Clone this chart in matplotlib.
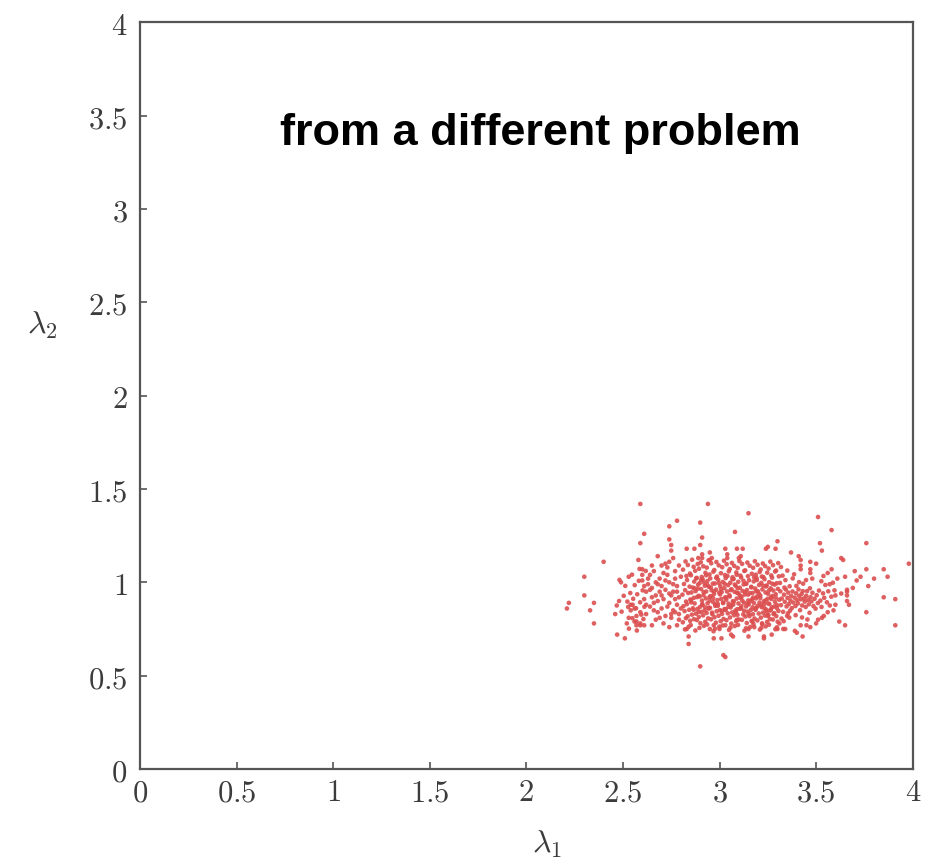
import matplotlib
matplotlib.use("Agg")
import matplotlib.pyplot as plt
from matplotlib.ticker import FuncFormatter

# ---------------- data (lambda_1, lambda_2 samples) ----
tail_l1 = [
    2.59, 2.94, 2.78, 2.90, 2.74, 2.61, 2.91, 2.59, 2.74, 2.75,
    2.90, 2.40, 2.58, 2.30, 2.49, 2.53, 2.30, 2.22, 2.21, 2.35,
    2.33, 2.35, 2.48, 2.46, 2.47, 2.51, 2.53, 2.54, 2.57, 2.57,
    2.59, 2.84, 2.84, 2.90, 3.02, 3.03, 2.83, 2.97, 3.01, 3.15,
    3.51, 3.08, 3.58, 3.30, 3.52, 3.53, 3.76, 3.98, 3.85, 3.87,
    3.80, 3.76, 3.70, 3.73, 3.71, 3.65, 3.69, 3.77, 3.85, 3.91,
    3.76, 3.91, 3.65, 3.62, 3.63, 3.64, 3.58, 3.61, 3.66, 3.66,
    3.41, 3.42, 3.42, 3.42, 3.47, 3.50, 3.47, 3.47, 3.48, 3.56,
    3.57, 3.60, 3.63, 3.66, 3.66, 3.67, 3.60, 3.59, 3.56, 3.54,
    3.53, 3.51, 3.50, 3.47, 3.43, 3.40, 3.39, 3.42, 3.45, 3.07,
    3.06, 3.15, 3.15, 3.23, 3.23, 3.27, 3.30, 3.33, 3.24, 3.25,
    3.29, 3.37, 2.83, 2.87, 3.03, 3.09, 3.12, 2.91, 2.89, 2.91,
    2.95, 2.96, 2.95, 3.04, 3.04, 3.11, 3.10, 2.75, 2.68, 2.72,
    2.74, 2.76, 2.65, 2.60, 2.60, 2.64, 2.60, 2.55, 2.56, 2.54,
    2.52, 2.56, 2.57, 2.59, 2.65, 2.61, 2.59, 2.95, 2.97, 3.00,
    3.03, 3.09, 3.17, 3.18, 3.22, 3.25, 3.28, 3.31, 3.34, 3.35,
]
tail_l2 = [
    1.42, 1.42, 1.33, 1.32, 1.30, 1.26, 1.24, 1.21, 1.23, 1.20,
    1.20, 1.11, 1.12, 1.03, 1.00, 1.03, 0.93, 0.89, 0.86, 0.89,
    0.85, 0.78, 0.90, 0.83, 0.72, 0.70, 0.81, 0.88, 0.79, 0.77,
    0.77, 0.67, 0.71, 0.55, 0.61, 0.60, 0.75, 0.70, 0.70, 1.37,
    1.35, 1.27, 1.28, 1.22, 1.21, 1.17, 1.21, 1.10, 1.07, 1.03,
    1.02, 1.07, 1.06, 1.03, 1.01, 1.03, 0.97, 0.98, 0.92, 0.91,
    0.84, 0.77, 0.77, 0.79, 1.13, 1.12, 1.07, 1.02, 0.96, 0.95,
    1.14, 1.12, 1.09, 1.07, 1.11, 1.10, 1.07, 1.05, 1.02, 1.05,
    0.99, 0.93, 0.94, 0.93, 0.90, 0.88, 0.88, 0.85, 0.84, 0.82,
    0.81, 0.80, 0.78, 0.76, 0.71, 0.73, 0.74, 0.77, 0.77, 0.71,
    0.72, 0.71, 0.75, 0.71, 0.70, 0.72, 0.75, 0.75, 1.18, 1.19,
    1.18, 1.16, 1.18, 1.18, 1.18, 1.18, 1.18, 1.15, 1.13, 1.13,
    1.16, 1.13, 1.12, 1.15, 1.13, 1.14, 1.13, 1.17, 1.14, 1.10,
    1.11, 1.13, 1.09, 1.07, 1.04, 1.04, 1.01, 0.88, 0.86, 0.85,
    0.78, 0.79, 0.82, 0.84, 0.77, 0.77, 0.78, 0.75, 0.77, 0.75,
    0.77, 0.80, 0.79, 0.76, 0.78, 0.82, 0.83, 0.78, 0.75, 0.82,
]

left_l1 = [
    2.62, 2.63, 2.61, 2.64, 2.62, 2.66, 2.65, 2.67, 2.66, 2.68,
    2.67, 2.69, 2.70, 2.69, 2.71, 2.70, 2.72, 2.71, 2.73, 2.73,
    2.74, 2.72, 2.75, 2.74, 2.76, 2.75, 2.74, 2.77, 2.77, 2.78,
    2.76, 2.79, 2.78, 2.77, 2.79, 2.78, 2.63, 2.65, 2.68, 2.70,
    2.66, 2.69, 2.72, 2.73, 2.76, 2.79, 2.78, 2.80, 2.64, 2.71,
    2.62, 2.67, 2.74, 2.77, 2.80, 2.61, 2.68, 2.75, 2.70, 2.79,
    2.468, 2.482, 2.493, 2.504, 2.512, 2.523, 2.531, 2.538, 2.547, 2.553,
    2.561, 2.568, 2.574, 2.582, 2.589, 2.595, 2.602, 2.611, 2.618, 2.586,
    2.549, 2.572, 2.606, 2.527,
]
left_l2 = [
    0.95, 0.99, 0.91, 0.87, 0.83, 1.06, 0.97, 0.93, 0.89, 0.84,
    0.80, 1.02, 0.98, 0.95, 0.91, 0.86, 0.82, 0.78, 1.08, 1.04,
    1.00, 0.96, 0.93, 0.89, 0.85, 0.81, 0.76, 1.06, 1.02, 0.98,
    0.95, 0.92, 0.88, 0.84, 0.80, 0.77, 1.02, 0.92, 0.99, 0.93,
    0.85, 0.81, 1.01, 0.87, 0.99, 1.09, 0.95, 0.86, 0.96, 1.05,
    0.88, 1.00, 0.94, 0.91, 1.03, 0.98, 0.90, 0.83, 1.09, 0.83,
    0.876, 1.013, 0.843, 0.928, 0.981, 0.897, 0.752, 0.943, 1.041, 0.912,
    0.985, 0.861, 0.936, 1.008, 0.893, 0.827, 0.957, 0.869, 1.061, 1.072,
    0.808, 0.742, 0.803, 0.868,
]

core_l1 = [
    2.824, 2.811, 2.829, 2.816, 2.822, 2.808, 2.827, 2.813, 2.819, 2.826, 2.810, 2.821,
    2.836, 2.847, 2.832, 2.845, 2.838, 2.849, 2.831, 2.843, 2.835, 2.848, 2.840,
    2.858, 2.866, 2.852, 2.869, 2.861, 2.855, 2.867, 2.853, 2.862, 2.857, 2.868, 2.851,
    2.887, 2.874, 2.882, 2.889, 2.876, 2.884, 2.871, 2.886, 2.878, 2.883, 2.875,
    2.903, 2.894, 2.908, 2.897, 2.905, 2.892, 2.909, 2.899, 2.906, 2.893, 2.901, 2.896,
    2.916, 2.927, 2.913, 2.924, 2.918, 2.929, 2.911, 2.922, 2.915, 2.926, 2.919,
    2.943, 2.934, 2.948, 2.937, 2.945, 2.931, 2.949, 2.938, 2.946, 2.933, 2.941, 2.936,
    2.957, 2.968, 2.952, 2.965, 2.959, 2.954, 2.967, 2.951, 2.963, 2.956, 2.969,
    2.984, 2.973, 2.987, 2.976, 2.982, 2.971, 2.989, 2.978, 2.985, 2.974, 2.981, 2.977,
    2.996, 3.007, 2.993, 3.004, 2.998, 3.009, 2.991, 3.002, 2.995, 3.006, 2.999,
    3.023, 3.014, 3.028, 3.017, 3.025, 3.011, 3.029, 3.018, 3.026, 3.013, 3.021, 3.016,
    3.037, 3.048, 3.032, 3.045, 3.039, 3.034, 3.047, 3.031, 3.043, 3.036, 3.049,
    3.064, 3.053, 3.067, 3.056, 3.062, 3.051, 3.069, 3.058, 3.065, 3.054, 3.061, 3.057,
    3.076, 3.087, 3.073, 3.084, 3.078, 3.089, 3.071, 3.082, 3.075, 3.086, 3.079,
    3.103, 3.094, 3.108, 3.097, 3.105, 3.091, 3.109, 3.098, 3.106, 3.093, 3.101, 3.096,
    3.117, 3.128, 3.112, 3.125, 3.119, 3.114, 3.127, 3.111, 3.123, 3.116, 3.129,
    3.144, 3.133, 3.147, 3.136, 3.142, 3.131, 3.149, 3.138, 3.145, 3.134, 3.141, 3.137,
    3.156, 3.167, 3.153, 3.164, 3.158, 3.169, 3.151, 3.162, 3.155, 3.166, 3.159,
    3.183, 3.174, 3.188, 3.177, 3.185, 3.171, 3.189, 3.178, 3.186, 3.173, 3.181, 3.176,
    3.197, 3.208, 3.192, 3.205, 3.199, 3.194, 3.207, 3.191, 3.203, 3.196, 3.209,
    3.224, 3.213, 3.227, 3.216, 3.222, 3.211, 3.229, 3.218, 3.225, 3.214, 3.221, 3.217,
    3.236, 3.247, 3.233, 3.244, 3.238, 3.249, 3.231, 3.242, 3.235, 3.246, 3.239,
    3.263, 3.254, 3.268, 3.257, 3.265, 3.251, 3.269, 3.258, 3.266, 3.253, 3.261, 3.256,
    3.277, 3.288, 3.272, 3.285, 3.279, 3.274, 3.287, 3.271, 3.283, 3.276, 3.289,
    3.304, 3.293, 3.307, 3.296, 3.302, 3.291, 3.309, 3.298, 3.305, 3.294, 3.301, 3.297,
]
core_l2 = [
    1.112, 1.068, 1.034, 0.991, 0.958, 0.934, 0.897, 0.872, 0.846, 0.808, 0.786, 0.748,
    1.093, 1.047, 1.012, 0.977, 0.943, 0.908, 0.883, 0.853, 0.818, 0.794, 0.762,
    1.121, 1.083, 1.038, 1.004, 0.972, 0.946, 0.917, 0.893, 0.861, 0.827, 0.803, 0.771,
    1.098, 1.062, 1.024, 0.987, 0.953, 0.921, 0.887, 0.858, 0.832, 0.798, 0.742,
    1.107, 1.073, 1.029, 0.996, 0.964, 0.928, 0.902, 0.868, 0.841, 0.815, 0.781, 0.756,
    1.086, 1.051, 1.016, 0.982, 0.947, 0.914, 0.879, 0.849, 0.823, 0.789, 0.767,
    1.118, 1.079, 1.042, 1.007, 0.976, 0.951, 0.922, 0.888, 0.864, 0.836, 0.807, 0.774,
    1.102, 1.057, 1.021, 0.993, 0.957, 0.926, 0.894, 0.863, 0.829, 0.802, 0.738,
    1.109, 1.066, 1.031, 0.994, 0.961, 0.937, 0.905, 0.874, 0.845, 0.813, 0.784, 0.752,
    1.091, 1.049, 1.014, 0.979, 0.944, 0.911, 0.884, 0.851, 0.821, 0.792, 0.763,
    1.116, 1.081, 1.039, 1.002, 0.969, 0.948, 0.919, 0.891, 0.857, 0.831, 0.804, 0.769,
    1.097, 1.059, 1.023, 0.985, 0.951, 0.919, 0.886, 0.856, 0.834, 0.797, 0.745,
    1.104, 1.071, 1.027, 0.998, 0.963, 0.931, 0.899, 0.866, 0.839, 0.812, 0.779, 0.758,
    1.088, 1.053, 1.018, 0.981, 0.949, 0.913, 0.881, 0.848, 0.824, 0.791, 0.766,
    1.114, 1.077, 1.036, 1.003, 0.971, 0.944, 0.916, 0.887, 0.859, 0.826, 0.801, 0.772,
    1.099, 1.061, 1.026, 0.989, 0.954, 0.923, 0.891, 0.861, 0.828, 0.799, 0.741,
    1.106, 1.064, 1.033, 0.992, 0.959, 0.935, 0.903, 0.871, 0.843, 0.817, 0.782, 0.754,
    1.089, 1.046, 1.011, 0.976, 0.942, 0.909, 0.882, 0.852, 0.819, 0.793, 0.761,
    1.113, 1.078, 1.041, 1.005, 0.967, 0.943, 0.914, 0.889, 0.858, 0.829, 0.806, 0.776,
    1.094, 1.056, 1.022, 0.986, 0.952, 0.924, 0.892, 0.864, 0.833, 0.796, 0.747,
    1.101, 1.069, 1.028, 0.997, 0.962, 0.929, 0.898, 0.867, 0.838, 0.811, 0.777, 0.757,
    1.087, 1.052, 1.017, 0.983, 0.946, 0.912, 0.883, 0.854, 0.822, 0.788, 0.764,
    1.111, 1.074, 1.037, 1.001, 0.968, 0.939, 0.911, 0.884, 0.855, 0.825, 0.803, 0.773,
    1.092, 1.058, 1.025, 0.988, 0.956, 0.927, 0.896, 0.866, 0.835, 0.801, 0.749,
    1.103, 1.063, 1.032, 0.995, 0.965, 0.936, 0.907, 0.878, 0.847, 0.819, 0.789, 0.759,
]

mid_l1 = [
    2.853, 2.871, 2.892, 2.905, 2.917, 2.926, 2.938, 2.949, 2.961, 2.972,
    2.983, 2.991, 3.003, 3.012, 3.027, 3.035, 3.046, 3.058, 3.067, 3.074,
    3.085, 3.094, 3.106, 3.113, 3.124, 3.133, 3.146, 3.152, 3.165, 3.174,
    3.186, 3.193, 3.204, 3.215, 3.226, 3.238, 3.245, 3.257, 3.266, 3.284,
    2.866, 2.879, 2.897, 2.911, 2.931, 2.943, 2.955, 2.967, 2.978, 2.997,
    3.008, 3.019, 3.031, 3.041, 3.053, 3.062, 3.079, 3.091, 3.098, 3.118,
    3.127, 3.139, 3.148, 3.161, 3.171, 3.179, 3.189, 3.198, 3.211, 3.219,
    3.233, 3.241, 3.252, 3.263, 3.273, 3.291, 3.297, 2.887, 2.921, 3.089,
]
mid_l2 = [
    0.905, 0.968, 0.842, 1.013, 0.931, 0.866, 0.985, 0.902, 0.838, 0.951,
    1.024, 0.874, 0.935, 0.846, 0.992, 0.907, 0.869, 0.958, 1.017, 0.897,
    0.839, 0.968, 0.929, 0.872, 1.008, 0.948, 0.886, 0.831, 0.973, 0.918,
    0.853, 1.012, 0.939, 0.879, 0.982, 0.903, 0.842, 0.957, 0.921, 0.871,
    0.853, 1.021, 0.924, 0.883, 1.038, 0.859, 0.972, 0.915, 0.882, 0.996,
    0.963, 0.889, 0.852, 1.034, 0.924, 0.877, 0.988, 0.856, 0.941, 0.902,
    0.848, 0.993, 0.934, 0.899, 0.866, 1.027, 0.952, 0.874, 0.916, 1.031,
    0.861, 0.978, 0.887, 0.849, 0.993, 0.918, 0.862, 0.966, 0.998, 1.041,
]

right_l1 = [
    3.315, 3.322, 3.318, 3.326, 3.313, 3.329, 3.321, 3.334, 3.338, 3.343,
    3.347, 3.341, 3.352, 3.356, 3.359, 3.354, 3.363, 3.367, 3.371, 3.374,
    3.378, 3.382, 3.386, 3.389, 3.393, 3.397, 3.402, 3.406, 3.409, 3.413,
    3.417, 3.421, 3.425, 3.428, 3.433, 3.437, 3.441, 3.446, 3.449, 3.453,
    3.458, 3.462, 3.466, 3.471, 3.476, 3.481, 3.486, 3.492, 3.497, 3.503,
    3.332, 3.361, 3.394, 3.427, 3.455, 3.351, 3.379, 3.412, 3.448, 3.318,
    3.336, 3.365, 3.398, 3.431, 3.468, 3.509, 3.515, 3.522, 3.528, 3.536,
    3.542, 3.548, 3.556, 3.563, 3.571, 3.579, 3.587, 3.595, 3.538, 3.527,
]
right_l2 = [
    0.952, 0.913, 0.878, 1.036, 0.997, 0.842, 0.806, 0.934, 0.896, 0.962,
    0.871, 1.012, 0.917, 0.945, 0.884, 0.834, 0.979, 0.903, 0.927, 0.862,
    0.951, 0.892, 1.043, 0.918, 0.873, 0.941, 0.904, 0.887, 0.962, 0.926,
    0.851, 0.909, 0.938, 0.876, 0.993, 0.914, 0.897, 0.868, 0.928, 0.953,
    0.906, 0.882, 0.837, 0.921, 0.898, 0.944, 0.873, 0.912, 0.859, 0.931,
    0.792, 0.811, 0.824, 0.812, 0.801, 1.063, 1.021, 1.001, 1.012, 1.082,
    0.972, 0.848, 0.981, 0.953, 0.968, 0.889, 0.956, 0.902, 0.868, 0.941,
    0.917, 0.986, 0.893, 0.952, 0.876, 0.923, 0.998, 0.957, 1.034, 1.006,
]

lam1 = tail_l1 + left_l1 + core_l1 + mid_l1 + right_l1
lam2 = tail_l2 + left_l2 + core_l2 + mid_l2 + right_l2

ticks = [0, 0.5, 1, 1.5, 2, 2.5, 3, 3.5, 4]
title_text = "from a different problem"

# ---------------- figure ----------------
plt.rcParams["mathtext.fontset"] = "cm"

fig = plt.figure(figsize=(9.28, 8.62), dpi=100)
ax = fig.add_axes([0.1509, 0.1067, 0.8326, 0.8663])

ax.scatter(lam1, lam2, s=11, color="#dc4f50", edgecolors="none", alpha=0.9, zorder=3)

ax.set_xlim(0, 4)
ax.set_ylim(0, 4)
ax.set_xticks(ticks)
ax.set_yticks(ticks)
fmt = FuncFormatter(lambda v, p: r"$%g$" % v)
ax.xaxis.set_major_formatter(fmt)
ax.yaxis.set_major_formatter(fmt)
ax.tick_params(axis="both", direction="in", length=5, width=1.2, color="#555555",
               labelsize=22, labelcolor="#3c3c3c", top=False, right=False)
ax.tick_params(axis="x", pad=6)
ax.tick_params(axis="y", pad=9)

for sp in ax.spines.values():
    sp.set_color("#555555")
    sp.set_linewidth(1.6)

ax.set_xlabel(r"$\lambda_1$", fontsize=23, color="#3c3c3c")
ax.set_ylabel(r"$\lambda_2$", fontsize=23, color="#3c3c3c", rotation=0)
ax.xaxis.set_label_coords(0.527, -0.100)
ax.yaxis.set_label_coords(-0.127, 0.596)
ax.xaxis.label.set_va("center")
ax.yaxis.label.set_va("center")

fig.text(540 / 928, 1 - 145 / 862, title_text, ha="center", va="baseline",
         fontsize=32.5, fontweight="bold", family="Liberation Sans", color="black")

fig.savefig("out.png", dpi=100, facecolor="white")
